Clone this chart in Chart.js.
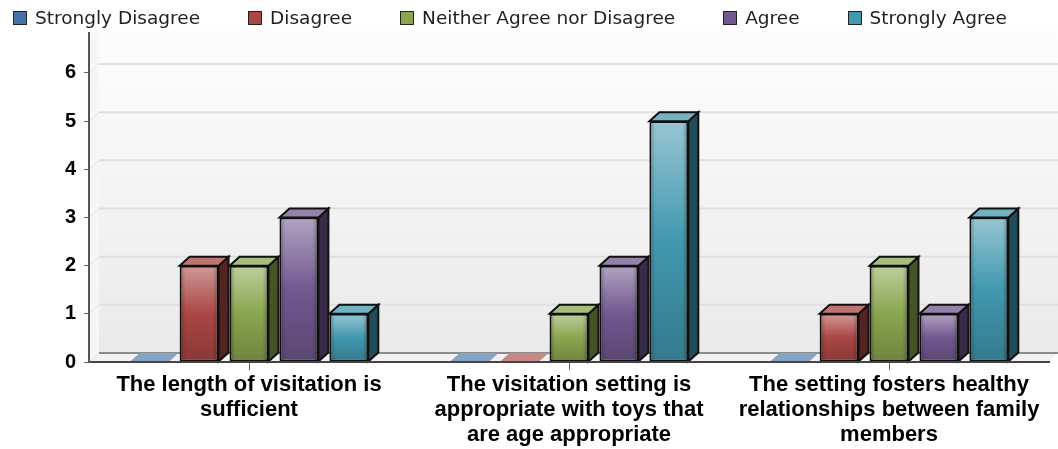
<!DOCTYPE html>
<html>
<head>
<meta charset="utf-8">
<script src="https://cdn.jsdelivr.net/npm/chart.js@4"></script>
<style>
  body { margin: 0; background: #fff; overflow: hidden; }
  #wrap { position: relative; width: 1058px; height: 449px; }
  #legend { position: absolute; left: 13px; top: 6px; display: flex; gap: 48px; font: 18.5px "DejaVu Sans", sans-serif; color: #222; line-height: 24px; white-space: nowrap; }
  #legend span.box { display: inline-block; width: 12px; height: 12px; border: 1.5px solid #222; margin-right: 8px; vertical-align: -1px; }
</style>
</head>
<body>
<div id="wrap">
  <div id="legend"></div>
  <canvas id="chart" width="1058" height="449"></canvas>
</div>
<script>
const categories = [
    ['The length of visitation is', 'sufficient'],
    ['The visitation setting is', 'appropriate with toys that', 'are age appropriate'],
    ['The setting fosters healthy', 'relationships between family', 'members']
];
const yTicks = [0, 1, 2, 3, 4, 5, 6];

const seriesNames = ['Strongly Disagree', 'Disagree', 'Neither Agree nor Disagree', 'Agree', 'Strongly Agree'];
const stronglyDisagree = [0, 0, 0];
const disagree = [2, 0, 1];
const neither = [2, 1, 2];
const agree = [3, 2, 1];
const stronglyAgree = [1, 5, 3];
const seriesValues = [stronglyDisagree, disagree, neither, agree, stronglyAgree];

// [r, g, b] of each series
const seriesColors = [[69, 114, 167], [170, 70, 67], [137, 165, 78], [113, 88, 143], [65, 152, 175]];

const depthX = 10;
const depthY = 9;

function shade(c, k) {
    if (k > 1) {
        const t = k - 1;
        return `rgb(${c.map(v => Math.round(v + (255 - v) * t)).join(',')})`;
    }
    return `rgb(${c.map(v => Math.round(v * k)).join(',')})`;
}

function poly(ctx, pts, fill, stroke) {
    ctx.beginPath();
    pts.forEach((p, i) => i ? ctx.lineTo(p[0], p[1]) : ctx.moveTo(p[0], p[1]));
    ctx.closePath();
    if (fill) { ctx.fillStyle = fill; ctx.fill(); }
    if (stroke) { ctx.strokeStyle = stroke; ctx.lineWidth = 2; ctx.stroke(); }
}

// Front face gradient, fitted to the height of the bar
function frontGradient(context, c) {
    const chart = context.chart;
    if (!chart.chartArea || !context.parsed) return shade(c, 1);
    const y = chart.scales.y;
    const top = y.getPixelForValue(context.parsed.y);
    const base = y.getPixelForValue(0);
    if (base - top < 1) return shade(c, 1);
    const g = chart.ctx.createLinearGradient(0, top, 0, base);
    g.addColorStop(0, shade(c, 1.45));
    g.addColorStop(0.5, shade(c, 1));
    g.addColorStop(1, shade(c, 0.8));
    return g;
}

// Back wall, side wall, floor and the wall grid lines
const wallPlugin = {
    id: 'wall',
    beforeDatasetsDraw(chart) {
        const ctx = chart.ctx;
        const a = chart.chartArea;
        const y = chart.scales.y;
        const base = y.getPixelForValue(0);
        ctx.save();
        const g = ctx.createLinearGradient(0, a.top, 0, base);
        g.addColorStop(0, '#fdfdfd');
        g.addColorStop(1, '#e9e9e9');
        poly(ctx, [[a.left + depthX, a.top - 3], [a.right + depthX - 1, a.top - 3], [a.right + depthX - 1, base - depthY], [a.left + depthX, base - depthY]], g);
        poly(ctx, [[a.left, a.top], [a.left + depthX, a.top - 3], [a.left + depthX, base - depthY], [a.left, base]], '#f6f6f6');
        poly(ctx, [[a.left, base], [a.left + depthX, base - depthY], [a.right + depthX - 1, base - depthY], [a.right, base]], '#f1f1f1');
        ctx.lineWidth = 2;
        yTicks.forEach(v => {
            const py = y.getPixelForValue(v);
            ctx.strokeStyle = v === 0 ? '#8c8c8c' : '#e0e0e0';
            ctx.beginPath();
            ctx.moveTo(a.left + depthX, py - depthY);
            ctx.lineTo(a.right + depthX - 1, py - depthY);
            ctx.stroke();
            ctx.strokeStyle = '#e4e4e4';
            ctx.lineWidth = 1;
            ctx.beginPath();
            ctx.moveTo(a.left, py);
            ctx.lineTo(a.left + depthX, py - depthY);
            ctx.stroke();
            ctx.lineWidth = 2;
        });

        // top and side faces of the bars, taken from the bar elements
        seriesValues.forEach((vals, i) => {
            const c = seriesColors[i];
            chart.getDatasetMeta(i).data.forEach((bar, j) => {
                const l = bar.x - bar.width / 2;
                const r = bar.x + bar.width / 2;
                if (vals[j] === 0) {
                    poly(ctx, [[l, bar.base], [l + depthX, bar.base - depthY], [r + depthX, bar.base - depthY], [r, bar.base]], shade(c, 1.35));
                    return;
                }
                poly(ctx, [[r, bar.y], [r + depthX, bar.y - depthY], [r + depthX, bar.base - depthY], [r, bar.base]], shade(c, 0.5), '#111');
                poly(ctx, [[l, bar.y], [l + depthX, bar.y - depthY], [r + depthX, bar.y - depthY], [r, bar.y]], shade(c, 1.25), '#111');
            });
        });
        ctx.restore();
    },
    // soft bevel along the side edges of each front face
    afterDatasetsDraw(chart) {
        const ctx = chart.ctx;
        ctx.save();
        seriesValues.forEach((vals, i) => {
            chart.getDatasetMeta(i).data.forEach((bar, j) => {
                if (vals[j] === 0) return;
                const l = bar.x - bar.width / 2 + 1;
                const r = bar.x + bar.width / 2 - 1;
                const g = ctx.createLinearGradient(l, 0, r, 0);
                const edge = 5 / (r - l);
                g.addColorStop(0, 'rgba(0,0,0,0.22)');
                g.addColorStop(edge, 'rgba(0,0,0,0)');
                g.addColorStop(1 - edge, 'rgba(0,0,0,0)');
                g.addColorStop(1, 'rgba(0,0,0,0.22)');
                ctx.fillStyle = g;
                ctx.fillRect(l, bar.y + 1, r - l, bar.base - bar.y - 2);
            });
        });
        ctx.restore();
    }
};

// HTML legend, one swatch per series
const legendEl = document.getElementById('legend');
seriesNames.forEach((name, i) => {
    const item = document.createElement('div');
    const box = document.createElement('span');
    box.className = 'box';
    box.style.background = shade(seriesColors[i], 1);
    item.appendChild(box);
    item.appendChild(document.createTextNode(name));
    legendEl.appendChild(item);
});

new Chart(document.getElementById('chart'), {
    type: 'bar',
    data: {
        labels: categories,
        datasets: seriesNames.map((name, i) => ({
            label: name,
            data: seriesValues[i],
            backgroundColor: ctx => frontGradient(ctx, seriesColors[i]),
            borderColor: '#111',
            borderWidth: ctx => (ctx.parsed && ctx.parsed.y === 0 ? 0 : 2),
            borderSkipped: false,
            categoryPercentage: 0.78,
            barPercentage: 0.78
        }))
    },
    options: {
        responsive: false,
        animation: false,
        layout: { padding: { top: 33, right: 9 } },
        plugins: { legend: { display: false }, tooltip: { enabled: false } },
        scales: {
            x: {
                afterFit: scale => { scale.height = 87; },
                grid: { offset: false, drawOnChartArea: false, drawTicks: true, tickLength: 8, color: '#666' },
                border: { color: '#444', width: 2, z: 1 },
                ticks: {
                    color: '#000',
                    maxRotation: 0,
                    autoSkip: false,
                    padding: 2,
                    font: { family: '"Liberation Sans"', size: 22, weight: 'bold', lineHeight: 1.14 }
                }
            },
            y: {
                min: 0,
                max: 6.83,
                afterFit: scale => { scale.width = 89; },
                afterBuildTicks: scale => { scale.ticks = yTicks.map(v => ({ value: v })); },
                grid: { drawOnChartArea: false, drawTicks: true, tickLength: 5, color: '#666' },
                border: { color: '#555', width: 2, z: 1 },
                ticks: {
                    color: '#000',
                    padding: 8,
                    font: { family: '"Liberation Sans"', size: 20, weight: 'bold' }
                }
            }
        }
    },
    plugins: [wallPlugin]
});
</script>
</body>
</html>
